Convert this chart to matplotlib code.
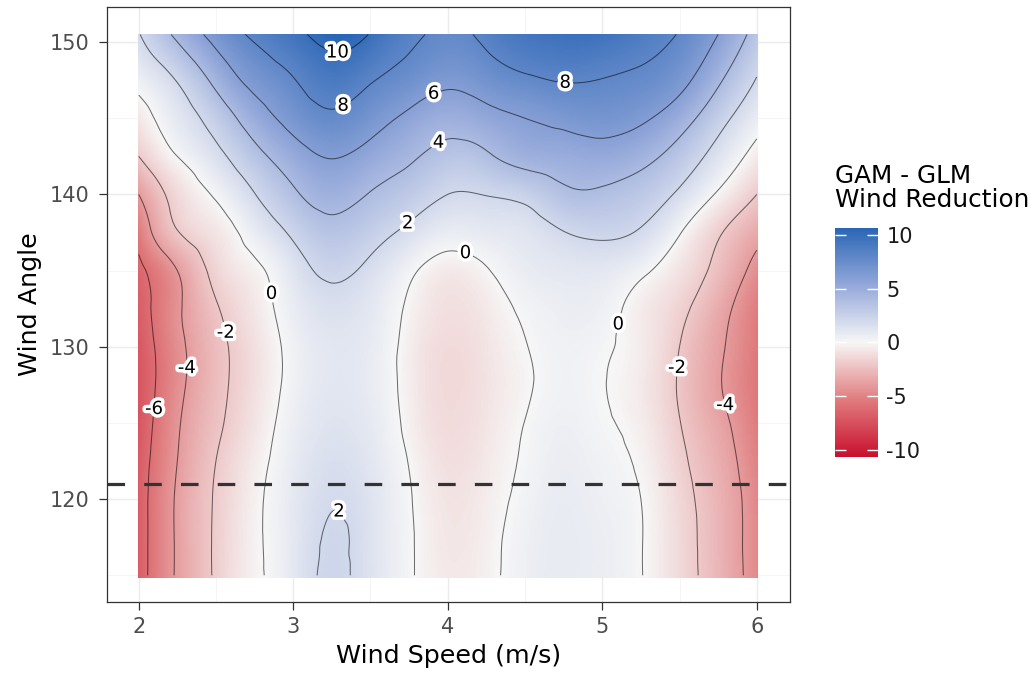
import numpy as np
import matplotlib
matplotlib.use("Agg")
import matplotlib.pyplot as plt
import matplotlib.tri as mtri
import matplotlib.patheffects as pe
from matplotlib.colors import LinearSegmentedColormap, Normalize

# ---------------- data ----------------
wind_speed = [2.0, 2.25, 2.5, 2.75, 3.0, 3.25, 3.5, 3.75, 4.0,
              4.25, 4.5, 4.75, 5.0, 5.25, 5.5, 5.75, 6.0]
wind_angle = [115, 117.5, 120, 122.5, 125, 127.5, 130, 132.5, 135,
              137.5, 140, 142.5, 145, 147.5, 150.5]
# GAM - GLM wind reduction, rows = wind_angle, columns = wind_speed
gam_minus_glm = [
    [-6.8, -3.8, -1.8, -0.25, 1.0, 2.25, 1.35, 0.15, -0.6, -0.3, 0.5, 0.8, 0.6, 0.05, -1.3, -2.8, -4.7],
    [-6.8, -3.8, -1.8, -0.25, 1.0, 2.15, 1.35, 0.15, -0.7, -0.35, 0.45, 0.8, 0.6, 0.05, -1.3, -2.85, -4.75],
    [-6.8, -3.8, -1.85, -0.3, 0.95, 1.9, 1.3, 0.1, -0.8, -0.45, 0.3, 0.75, 0.5, 0.0, -1.4, -2.9, -4.8],
    [-6.9, -4.0, -2.0, -0.5, 0.8, 1.6, 1.1, -0.05, -1.0, -0.6, 0.15, 0.65, 0.35, -0.2, -1.65, -3.15, -5.05],
    [-7.2, -4.2, -2.3, -0.8, 0.6, 1.3, 0.9, -0.3, -1.2, -0.75, 0.02, 0.5, 0.15, -0.45, -1.95, -3.5, -5.35],
    [-7.25, -4.5, -2.5, -1.0, 0.4, 1.1, 0.75, -0.4, -1.3, -0.85, -0.15, 0.35, 0.05, -0.6, -2.15, -3.85, -5.55],
    [-7.1, -4.5, -2.5, -1.0, 0.4, 1.1, 0.8, -0.4, -1.25, -0.8, -0.05, 0.4, 0.15, -0.5, -2.0, -3.7, -5.5],
    [-6.8, -4.3, -2.15, -0.7, 0.7, 1.5, 1.0, -0.2, -1.0, -0.6, 0.2, 0.6, 0.45, -0.5, -1.6, -3.3, -5.3],
    [-6.4, -4.0, -1.5, -0.3, 1.2, 2.3, 1.6, 0.3, -0.6, -0.1, 0.7, 1.0, 1.0, 0.3, -0.9, -2.5, -4.6],
    [-5.4, -2.1, -0.8, 0.7, 2.3, 3.4, 2.7, 1.6, 0.7, 0.9, 1.2, 1.95, 2.3, 1.8, 0.1, -1.8, -3.4],
    [-4.0, -1.3, 0.2, 1.95, 3.7, 4.7, 3.9, 3.0, 2.0, 2.05, 2.5, 3.6, 3.7, 3.1, 1.7, -0.2, -2.0],
    [-2.0, 0.0, 1.5, 3.4, 5.1, 6.1, 5.3, 4.3, 3.35, 3.75, 4.7, 5.0, 5.2, 4.6, 3.2, 1.3, -0.6],
    [-0.7, 1.0, 2.8, 5.0, 6.7, 7.65, 6.8, 5.6, 4.8, 5.35, 6.0, 6.5, 6.8, 6.3, 4.9, 2.7, 0.7],
    [0.5, 2.1, 4.5, 6.6, 7.9, 9.0, 8.15, 7.2, 6.4, 7.0, 7.7, 8.1, 7.95, 7.6, 6.6, 4.3, 1.9],
    [1.9, 4.4, 6.7, 8.3, 9.5, 10.7, 9.9, 8.4, 7.7, 8.4, 9.3, 9.7, 9.6, 8.8, 7.9, 6.0, 3.3],
]
contour_levels = [-6, -4, -2, 0, 2, 4, 6, 8, 10]
threshold_angle = 121
x_ticks = [2, 3, 4, 5, 6]
y_ticks = [120, 130, 140, 150]
legend_ticks = [-10, -5, 0, 5, 10]
legend_limit = 10.7
x_label = "Wind Speed (m/s)"
y_label = "Wind Angle"
legend_title = "GAM - GLM\nWind Reduction"

# ---------------- smooth surface through the library's interpolator ----------------
xs = np.array(wind_speed)
ys = np.array(wind_angle)
Z = np.array(gam_minus_glm)
nrow, ncol = Z.shape
XX, YY = np.meshgrid(xs, ys)
ysc = 10.0  # scale angles so that the grid cells are square
triangles = []
for i in range(nrow - 1):
    for j in range(ncol - 1):
        k = i * ncol + j
        triangles.append([k, k + 1, k + ncol + 1])
        triangles.append([k, k + ncol + 1, k + ncol])
tri = mtri.Triangulation(XX.ravel(), YY.ravel() / ysc, triangles=triangles)
interp = mtri.CubicTriInterpolator(tri, Z.ravel(), kind="min_E")
xf = np.linspace(xs.min(), xs.max(), 401)
yf = np.linspace(ys.min(), ys.max(), 356)
XF, YF = np.meshgrid(xf, yf)
ZF = np.asarray(interp(XF, YF / ysc))

# ---------------- figure ----------------
plt.rcParams["font.family"] = ["DejaVu Sans"]
fig = plt.figure(figsize=(10.30, 6.76), dpi=100)
ax = fig.add_axes([107 / 1030, 1 - 602 / 676, 683 / 1030, 595 / 676])

cmap = LinearSegmentedColormap.from_list(
    "gam_glm",
    [(0.0, "#C8102E"), (0.25, "#E07C7E"), (0.5, "#F7F7F7"),
     (0.75, "#94A8DA"), (1.0, "#2A66B6")])
norm = Normalize(vmin=-legend_limit, vmax=legend_limit)

ax.set_xlim(1.795, 6.215)
ax.set_ylim(113.25, 152.3)
ax.set_xticks(x_ticks)
ax.set_yticks(y_ticks)
ax.set_xticks([2.5, 3.5, 4.5, 5.5], minor=True)
ax.set_yticks([115, 125, 135, 145], minor=True)
ax.grid(True, which="major", color="#EBEBEB", lw=1.0, zorder=0)
ax.grid(True, which="minor", color="#F2F2F2", lw=0.5, zorder=0)
ax.set_axisbelow(True)

dx = (xf[1] - xf[0]) / 2
dy = (yf[1] - yf[0]) / 2
im = ax.imshow(ZF, origin="lower", cmap=cmap, norm=norm, aspect="auto",
               extent=[xf[0] - dx, xf[-1] + dx, yf[0] - dy - 0.1, yf[-1] + dy],
               interpolation="bilinear", zorder=1)

cs = ax.contour(XF, YF, ZF, levels=contour_levels, colors="black",
                linewidths=0.75, alpha=0.55, negative_linestyles="solid", zorder=2)

label_spots = [(3.285, 149.3), (3.324, 145.8), (4.76, 147.3), (3.9, 146.8),
               (3.94, 143.4), (3.725, 138.3), (4.113, 136.1), (2.818, 133.4),
               (5.13, 131.4), (2.553, 130.9), (2.314, 128.6), (2.12, 125.9),
               (5.498, 128.6), (5.808, 126.2), (3.29, 119.1)]
labels = ax.clabel(cs, inline=False, fontsize=13, fmt="%d", colors="black",
                   manual=label_spots, zorder=4)
for t in labels:
    t.set_rotation(0)
    t.set_alpha(1.0)
    t.set_color("black")
    t.set_path_effects([pe.withStroke(linewidth=5, foreground="white")])
    t.set_zorder(5)

ax.axhline(threshold_angle, color="#333333", lw=2.3, ls=(0, (5.5, 6.0)), zorder=3)

for s in ax.spines.values():
    s.set_color("#333333")
    s.set_linewidth(0.9)
ax.tick_params(axis="both", which="major", length=5.5, width=0.9, color="#333333",
               labelsize=15, labelcolor="#4D4D4D")
ax.tick_params(axis="x", which="major", pad=5.5)
ax.tick_params(axis="y", which="major", pad=7)
ax.tick_params(axis="both", which="minor", length=0)
ax.set_xlabel(x_label, fontsize=18.3, color="black", labelpad=5)
ax.set_ylabel(y_label, fontsize=18.3, color="black", labelpad=6)

# ---------------- legend colour bar ----------------
cax = fig.add_axes([835 / 1030, 1 - 457 / 676, 43 / 1030, 229 / 676])
cb = fig.colorbar(im, cax=cax, ticks=legend_ticks)
cb.outline.set_visible(False)
cax.tick_params(axis="y", direction="in", length=8, width=1.0, color="white",
                left=True, right=True, labelsize=15, labelcolor="#1A1A1A", pad=6)
cb.ax.set_yticklabels([str(v) for v in legend_ticks])
fig.text(835 / 1030, 1 - 164 / 676, legend_title, ha="left", va="top",
         fontsize=17.8, linespacing=1.0, color="black")

fig.savefig("out.png", dpi=100)
